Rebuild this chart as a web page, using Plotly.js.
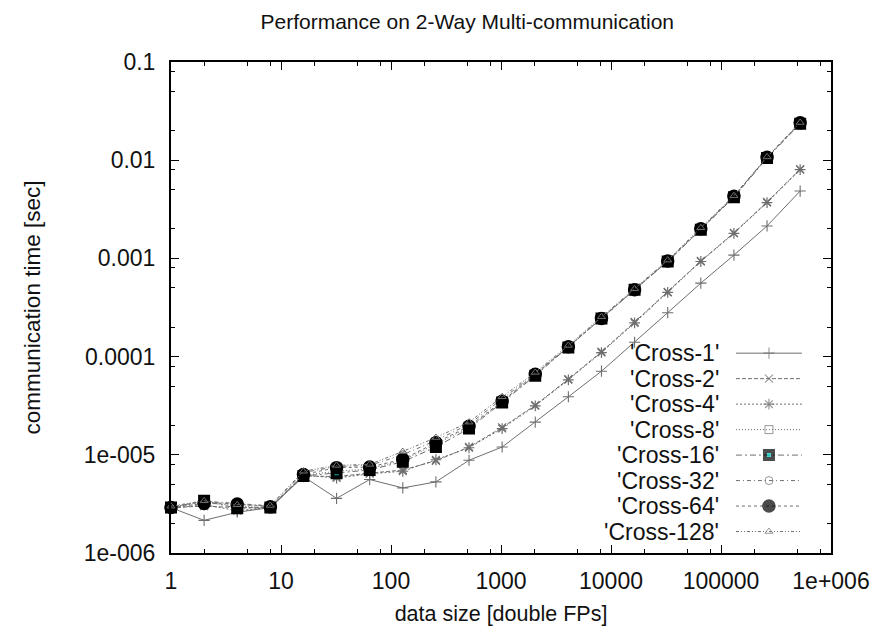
<!DOCTYPE html>
<html>
<head>
<meta charset="utf-8">
<script src="https://cdn.plot.ly/plotly-3.0.1.min.js"></script>
<style>
  html, body { margin: 0; padding: 0; background: #ffffff; }
  #chart { width: 880px; height: 630px; }
</style>
</head>
<body>
<div id="chart"></div>
<script>
// ---------------- data ----------------
const dataSize = [1, 2, 4, 8, 16, 32, 64, 128, 256, 512, 1024, 2048, 4096, 8192,
  16384, 32768, 65536, 131072, 262144, 524288];

const seriesNames = ["'Cross-1'", "'Cross-2'", "'Cross-4'", "'Cross-8'",
  "'Cross-16'", "'Cross-32'", "'Cross-64'", "'Cross-128'"];

const cross1 = [2.9e-6, 2.15e-6, 2.6e-6, 2.9e-6, 6.0e-6, 3.6e-6, 5.6e-6, 4.6e-6, 5.3e-6, 8.8e-6,
  1.2e-5, 2.15e-5, 3.9e-5, 7.1e-5, 1.4e-4, 2.8e-4, 5.6e-4, 1.08e-3, 2.14e-3, 4.85e-3];
const cross2 = [2.9e-6, 3.0e-6, 2.9e-6, 2.9e-6, 6.1e-6, 6.0e-6, 6.5e-6, 7.0e-6, 8.7e-6, 1.2e-5,
  1.9e-5, 3.2e-5, 5.9e-5, 1.12e-4, 2.25e-4, 4.55e-4, 9.4e-4, 1.82e-3, 3.75e-3, 8.1e-3];
const cross4 = [2.85e-6, 3.1e-6, 2.7e-6, 2.9e-6, 6.2e-6, 5.8e-6, 6.4e-6, 6.8e-6, 8.9e-6, 1.18e-5,
  1.85e-5, 3.15e-5, 5.8e-5, 1.1e-4, 2.2e-4, 4.5e-4, 9.3e-4, 1.8e-3, 3.7e-3, 8.0e-3];
const cross8 = [2.9e-6, 3.3e-6, 3.0e-6, 2.9e-6, 6.2e-6, 6.8e-6, 7.2e-6, 8.8e-6, 1.28e-5, 1.9e-5,
  3.45e-5, 6.5e-5, 1.25e-4, 2.45e-4, 4.8e-4, 9.3e-4, 1.97e-3, 4.25e-3, 1.06e-2, 2.38e-2];
const cross16 = [2.9e-6, 3.4e-6, 2.85e-6, 2.9e-6, 6.1e-6, 6.5e-6, 7.0e-6, 8.5e-6, 1.2e-5, 1.85e-5,
  3.4e-5, 6.4e-5, 1.24e-4, 2.45e-4, 4.8e-4, 9.3e-4, 1.96e-3, 4.2e-3, 1.05e-2, 2.35e-2];
const cross32 = [2.95e-6, 3.35e-6, 3.2e-6, 3.0e-6, 6.6e-6, 7.6e-6, 7.8e-6, 1.0e-5, 1.4e-5, 2.05e-5,
  3.7e-5, 6.7e-5, 1.27e-4, 2.5e-4, 4.9e-4, 9.5e-4, 2.0e-3, 4.3e-3, 1.07e-2, 2.4e-2];
const cross64 = [2.9e-6, 3.2e-6, 3.15e-6, 2.95e-6, 6.3e-6, 7.4e-6, 7.5e-6, 9.0e-6, 1.33e-5, 1.95e-5,
  3.5e-5, 6.6e-5, 1.26e-4, 2.45e-4, 4.8e-4, 9.4e-4, 2.0e-3, 4.3e-3, 1.07e-2, 2.4e-2];
const cross128 = [3.0e-6, 3.4e-6, 3.1e-6, 3.05e-6, 6.8e-6, 7.8e-6, 8.0e-6, 1.08e-5, 1.5e-5, 2.15e-5,
  3.9e-5, 6.9e-5, 1.3e-4, 2.55e-4, 4.9e-4, 9.6e-4, 2.05e-3, 4.35e-3, 1.08e-2, 2.42e-2];

const xTickVals = [1, 10, 100, 1000, 10000, 100000, 1000000];
const xTickText = ["1", "10", "100", "1000", "10000", "100000", "1e+006"];
const yTickVals = [1e-6, 1e-5, 1e-4, 1e-3, 1e-2, 1e-1];
const yTickText = ["1e-006", "1e-005", "0.0001", "0.001", "0.01", "0.1"];

// ---------------- styles ----------------
const seriesValues = [cross1, cross2, cross4, cross8, cross16, cross32, cross64, cross128];
const lineGray = '#6e6e6e';
const styles = [
  {dash: 'solid',                      symbol: 'cross-thin-open',   size: 8,  color: lineGray, lc: '#5c5c5c', lw: 1.1},
  {dash: '4px,2px',                    symbol: 'x-thin-open',       size: 8,  color: lineGray, lc: '#666', lw: 1.2},
  {dash: '2px,2px',                    symbol: 'asterisk-open',     size: 9,  color: lineGray, lc: '#666', lw: 1.2},
  {dash: '1px,2px',                    symbol: 'square-open',       size: 8,  color: lineGray, lc: '#777', lw: 1},
  {dash: '6px,3px,2px,3px',            symbol: 'square',            size: 8,  color: '#00c4c4', lc: '#000', lw: 4},
  {dash: '4px,3px,1px,3px',            symbol: 'circle-open',       size: 8,  color: lineGray, lc: '#777', lw: 1},
  {dash: '3px,3px',                    symbol: 'circle',            size: 12, color: '#000000', lc: '#000', lw: 1.5},
  {dash: '3px,2px,1px,2px,1px,2px',    symbol: 'triangle-up-open',  size: 7,  color: lineGray, lc: '#333', lw: 1}
];

const traces = [];
seriesValues.forEach((vals, i) => {
  const s = styles[i];
  traces.push({
    x: dataSize, y: vals, name: seriesNames[i], type: 'scatter', mode: 'lines+markers',
    line: {color: lineGray, width: 1, dash: s.dash},
    marker: {symbol: s.symbol, size: s.size, color: s.color,
             line: {color: s.lc, width: s.lw}},
    showlegend: false, cliponaxis: false
  });
});

// ---------------- custom gnuplot-style legend (text left of sample) ----------------
const legTop = 0.407, legStep = 0.0519;
const sampleX = [0.856, 0.906, 0.956];
const font = {family: 'Liberation Sans, Arial, sans-serif', size: 23, color: '#111'};
const annotations = [];
seriesNames.forEach((nm, i) => {
  const s = styles[i];
  const yy = legTop - i * legStep;
  traces.push({
    x: sampleX, y: [yy, yy, yy], xaxis: 'x2', yaxis: 'y2', type: 'scatter', mode: 'lines+markers',
    line: {color: lineGray, width: 1, dash: s.dash},
    marker: {symbol: s.symbol, size: [0, s.size, 0], color: s.color,
             line: {color: s.lc, width: s.lw}},
    showlegend: false, hoverinfo: 'skip', cliponaxis: false
  });
  annotations.push({
    xref: 'paper', yref: 'paper', x: 0.834, y: yy, xanchor: 'right', yanchor: 'middle',
    text: nm, showarrow: false, font: {family: font.family, size: 23, color: '#111'}
  });
});

const minorVals = (lo, hi) => {
  const out = [];
  for (let e = lo; e < hi; e++) [2, 5, 8].forEach(m => out.push(m * Math.pow(10, e)));
  return out;
};

const layout = {
  width: 880, height: 630,
  paper_bgcolor: '#ffffff', plot_bgcolor: '#ffffff',
  margin: {l: 171, r: 49, t: 62, b: 77},
  font: font,
  title: {text: 'Performance on 2-Way Multi-communication', x: 0.531, xanchor: 'center',
          y: 0.966, yanchor: 'middle', font: {family: font.family, size: 21, color: '#111'}},
  xaxis: {
    type: 'log', range: [0, 6], tickmode: 'array', tickvals: xTickVals, ticktext: xTickText,
    ticks: 'inside', ticklen: 8, tickwidth: 1, tickcolor: '#000', mirror: 'allticks',
    showline: true, linecolor: '#000', linewidth: 2, showgrid: false, zeroline: false,
    ticklabelstandoff: 6, tickfont: {family: font.family, size: 23, color: '#111'},
    minor: {tickvals: minorVals(0, 6), ticks: 'inside', ticklen: 4, tickcolor: '#000', tickwidth: 1, showgrid: false},
    title: {text: 'data size [double FPs]', font: {family: font.family, size: 21.5, color: '#111'}, standoff: 13}
  },
  yaxis: {
    type: 'log', range: [-6, -1], tickmode: 'array', tickvals: yTickVals, ticktext: yTickText,
    ticks: 'inside', ticklen: 8, tickwidth: 1, tickcolor: '#000', mirror: 'allticks',
    showline: true, linecolor: '#000', linewidth: 2, showgrid: false, zeroline: false,
    ticklabelstandoff: 9, tickfont: {family: font.family, size: 23, color: '#111'},
    minor: {tickvals: minorVals(-6, -1), ticks: 'inside', ticklen: 4, tickcolor: '#000', tickwidth: 1, showgrid: false},
    title: {text: 'communication time [sec]', font: {family: font.family, size: 22.5, color: '#111'}, standoff: 37}
  },
  xaxis2: {overlaying: 'x', anchor: 'y2', range: [0, 1], visible: false, fixedrange: true},
  yaxis2: {overlaying: 'y', anchor: 'x2', range: [0, 1], visible: false, fixedrange: true},
  annotations: annotations,
  showlegend: false
};

Plotly.newPlot('chart', traces, layout, {displayModeBar: false, staticPlot: true});
</script>
</body>
</html>
